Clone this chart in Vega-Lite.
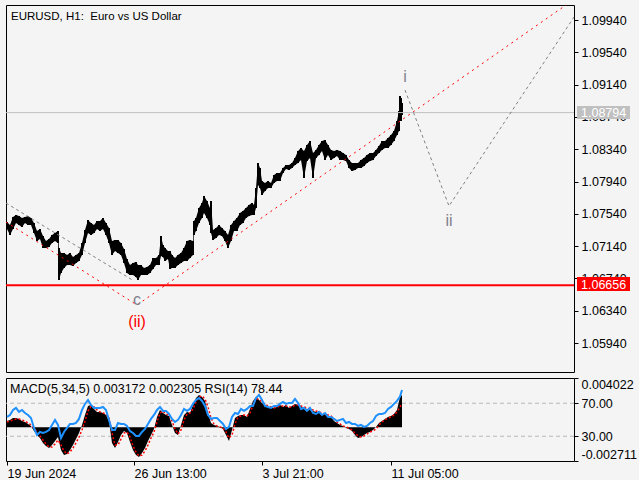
{
  "$schema": "https://vega.github.io/schema/vega-lite/v6.json",
  "background": "#f4f4f4",
  "padding": 2,
  "spacing": 4,
  "config": {
    "padding": 2,
    "view": {"stroke": "#000000", "strokeWidth": 1},
    "axis": {"labelFont": "Liberation Sans", "labelFontSize": 12.5, "labelColor": "#000000", "tickColor": "#000000", "tickSize": 4, "domain": false, "grid": false, "labelPadding": 3, "title": null, "labelOverlap": false},
    "text": {"font": "Liberation Sans"}
  },
  "datasets": {
    "price": [
      {"t":3,"hi":1.07439,"lo":1.07353},{"t":6,"hi":1.07402,"lo":1.07278},{"t":9,"hi":1.07501,"lo":1.07353},{"t":12,"hi":1.07526,"lo":1.07427},{"t":15,"hi":1.07514,"lo":1.07402},{"t":18,"hi":1.07489,"lo":1.07377},{"t":21,"hi":1.07501,"lo":1.07427},{"t":24,"hi":1.07514,"lo":1.07402},{"t":27,"hi":1.07489,"lo":1.07402},{"t":30,"hi":1.07427,"lo":1.07303},{"t":33,"hi":1.07328,"lo":1.07204},{"t":36,"hi":1.07353,"lo":1.07229},{"t":39,"hi":1.07266,"lo":1.07117},{"t":42,"hi":1.07204,"lo":1.07117},{"t":45,"hi":1.07229,"lo":1.0713},{"t":48,"hi":1.07278,"lo":1.07179},{"t":51,"hi":1.07303,"lo":1.07204},{"t":54,"hi":1.07328,"lo":1.07179},{"t":55,"hi":1.07117,"lo":1.06721},{"t":57,"hi":1.07055,"lo":1.06808},{"t":60,"hi":1.07055,"lo":1.06869},{"t":63,"hi":1.0703,"lo":1.06907},{"t":66,"hi":1.07055,"lo":1.06907},{"t":69,"hi":1.07006,"lo":1.06894},{"t":72,"hi":1.0703,"lo":1.06931},{"t":75,"hi":1.07055,"lo":1.06956},{"t":78,"hi":1.07179,"lo":1.0703},{"t":81,"hi":1.0734,"lo":1.07179},{"t":84,"hi":1.07464,"lo":1.07303},{"t":87,"hi":1.07427,"lo":1.07278},{"t":90,"hi":1.07402,"lo":1.07303},{"t":93,"hi":1.07452,"lo":1.07353},{"t":96,"hi":1.07452,"lo":1.07328},{"t":99,"hi":1.07489,"lo":1.07353},{"t":102,"hi":1.07427,"lo":1.07278},{"t":105,"hi":1.07365,"lo":1.07179},{"t":108,"hi":1.07204,"lo":1.0703},{"t":111,"hi":1.07216,"lo":1.0708},{"t":114,"hi":1.07216,"lo":1.07055},{"t":117,"hi":1.07179,"lo":1.0703},{"t":120,"hi":1.07105,"lo":1.06931},{"t":123,"hi":1.06981,"lo":1.06808},{"t":126,"hi":1.06907,"lo":1.06783},{"t":129,"hi":1.06931,"lo":1.06783},{"t":132,"hi":1.06944,"lo":1.06758},{"t":134,"hi":1.06907,"lo":1.06721},{"t":137,"hi":1.06907,"lo":1.06783},{"t":140,"hi":1.06869,"lo":1.06783},{"t":143,"hi":1.06882,"lo":1.06783},{"t":146,"hi":1.06907,"lo":1.06808},{"t":149,"hi":1.06993,"lo":1.06857},{"t":152,"hi":1.06993,"lo":1.06907},{"t":155,"hi":1.0703,"lo":1.06907},{"t":157,"hi":1.07266,"lo":1.07018},{"t":159,"hi":1.07154,"lo":1.07006},{"t":161,"hi":1.07117,"lo":1.06956},{"t":164,"hi":1.0708,"lo":1.06981},{"t":166,"hi":1.0708,"lo":1.06857},{"t":168,"hi":1.0703,"lo":1.06869},{"t":171,"hi":1.06993,"lo":1.06869},{"t":174,"hi":1.0703,"lo":1.06907},{"t":177,"hi":1.07055,"lo":1.06931},{"t":180,"hi":1.07117,"lo":1.06956},{"t":183,"hi":1.07204,"lo":1.06956},{"t":186,"hi":1.07216,"lo":1.06993},{"t":189,"hi":1.07204,"lo":1.0703},{"t":190,"hi":1.07452,"lo":1.07278},{"t":192,"hi":1.07489,"lo":1.07328},{"t":195,"hi":1.07613,"lo":1.07427},{"t":198,"hi":1.07674,"lo":1.07489},{"t":200,"hi":1.07761,"lo":1.07551},{"t":203,"hi":1.077,"lo":1.07489},{"t":206,"hi":1.07613,"lo":1.07402},{"t":207,"hi":1.077,"lo":1.07303},{"t":209,"hi":1.0734,"lo":1.07216},{"t":212,"hi":1.07365,"lo":1.07241},{"t":215,"hi":1.07402,"lo":1.07278},{"t":218,"hi":1.07365,"lo":1.07266},{"t":221,"hi":1.07328,"lo":1.07204},{"t":224,"hi":1.07278,"lo":1.07117},{"t":227,"hi":1.07402,"lo":1.07204},{"t":230,"hi":1.07452,"lo":1.07328},{"t":233,"hi":1.07489,"lo":1.07328},{"t":236,"hi":1.07551,"lo":1.07402},{"t":239,"hi":1.07576,"lo":1.07427},{"t":242,"hi":1.07613,"lo":1.07489},{"t":245,"hi":1.0765,"lo":1.07514},{"t":248,"hi":1.07674,"lo":1.07526},{"t":250,"hi":1.0765,"lo":1.07526},{"t":252,"hi":1.0786,"lo":1.07613},{"t":254,"hi":1.0817,"lo":1.07897},{"t":256,"hi":1.08108,"lo":1.0786},{"t":258,"hi":1.07947,"lo":1.07774},{"t":261,"hi":1.07922,"lo":1.07823},{"t":264,"hi":1.07947,"lo":1.0786},{"t":267,"hi":1.07922,"lo":1.0786},{"t":270,"hi":1.08021,"lo":1.07922},{"t":273,"hi":1.08046,"lo":1.07947},{"t":276,"hi":1.08046,"lo":1.07947},{"t":279,"hi":1.08108,"lo":1.08046},{"t":282,"hi":1.08145,"lo":1.08095},{"t":285,"hi":1.08145,"lo":1.08083},{"t":288,"hi":1.0817,"lo":1.08108},{"t":291,"hi":1.08231,"lo":1.08145},{"t":294,"hi":1.08318,"lo":1.0817},{"t":297,"hi":1.08355,"lo":1.08206},{"t":300,"hi":1.08318,"lo":1.07984},{"t":303,"hi":1.08392,"lo":1.08194},{"t":306,"hi":1.08442,"lo":1.08231},{"t":309,"hi":1.08293,"lo":1.07984},{"t":312,"hi":1.0833,"lo":1.08231},{"t":315,"hi":1.08392,"lo":1.08268},{"t":318,"hi":1.08442,"lo":1.08318},{"t":321,"hi":1.08454,"lo":1.08206},{"t":324,"hi":1.08392,"lo":1.08268},{"t":327,"hi":1.0833,"lo":1.08206},{"t":330,"hi":1.08318,"lo":1.08231},{"t":333,"hi":1.0833,"lo":1.08256},{"t":336,"hi":1.08318,"lo":1.08206},{"t":339,"hi":1.08293,"lo":1.08206},{"t":342,"hi":1.08268,"lo":1.08194},{"t":345,"hi":1.08206,"lo":1.08108},{"t":348,"hi":1.0817,"lo":1.0807},{"t":351,"hi":1.0817,"lo":1.08083},{"t":354,"hi":1.0817,"lo":1.08108},{"t":357,"hi":1.08206,"lo":1.08108},{"t":360,"hi":1.08231,"lo":1.08132},{"t":363,"hi":1.08268,"lo":1.0817},{"t":366,"hi":1.08293,"lo":1.08194},{"t":369,"hi":1.08293,"lo":1.08206},{"t":372,"hi":1.0833,"lo":1.08256},{"t":375,"hi":1.0838,"lo":1.08293},{"t":378,"hi":1.08442,"lo":1.0833},{"t":381,"hi":1.08442,"lo":1.08355},{"t":384,"hi":1.08479,"lo":1.08355},{"t":387,"hi":1.08516,"lo":1.08392},{"t":390,"hi":1.08566,"lo":1.08442},{"t":393,"hi":1.0869,"lo":1.08516},{"t":395,"hi":1.08813,"lo":1.08566},{"t":396,"hi":1.08999,"lo":1.0869},{"t":397,"hi":1.08974,"lo":1.0869},{"t":398,"hi":1.08912,"lo":1.08764}
    ],
    "ind": [
      {"t":3,"m":0.000618,"s":0.00052,"r":53.4},{"t":6,"m":0.000716,"s":0.000618,"r":55.8},{"t":9,"m":0.000912,"s":0.000716,"r":61.9},{"t":12,"m":0.000912,"s":0.000814,"r":64.3},{"t":15,"m":0.000814,"s":0.000814,"r":59.5},{"t":18,"m":0.000618,"s":0.000716,"r":61.9},{"t":21,"m":0.00052,"s":0.000618,"r":58.2},{"t":24,"m":0.000324,"s":0.000422,"r":55.8},{"t":27,"m":0.000127,"s":0.000225,"r":52.2},{"t":30,"m":-0.000363,"s":-0.000069,"r":40.1},{"t":33,"m":-0.000755,"s":-0.000461,"r":31.6},{"t":36,"m":-0.001049,"s":-0.000853,"r":35.2},{"t":39,"m":-0.001539,"s":-0.001245,"r":34.0},{"t":42,"m":-0.001833,"s":-0.001637,"r":35.2},{"t":45,"m":-0.002029,"s":-0.001931,"r":37.6},{"t":48,"m":-0.001735,"s":-0.001931,"r":43.7},{"t":51,"m":-0.001343,"s":-0.001637,"r":49.8},{"t":54,"m":-0.000951,"s":-0.001245,"r":43.7},{"t":57,"m":-0.002225,"s":-0.001735,"r":27.9},{"t":60,"m":-0.002716,"s":-0.002324,"r":35.2},{"t":63,"m":-0.002618,"s":-0.002618,"r":40.1},{"t":66,"m":-0.002225,"s":-0.002422,"r":44.9},{"t":69,"m":-0.001735,"s":-0.002029,"r":44.9},{"t":72,"m":-0.001147,"s":-0.001539,"r":46.1},{"t":75,"m":-0.000559,"s":-0.000951,"r":51.0},{"t":78,"m":0.000225,"s":-0.000265,"r":61.9},{"t":81,"m":0.001206,"s":0.000618,"r":69.2},{"t":84,"m":0.002088,"s":0.001598,"r":74.0},{"t":87,"m":0.002186,"s":0.002088,"r":67.9},{"t":90,"m":0.001794,"s":0.00199,"r":64.3},{"t":93,"m":0.0015,"s":0.001696,"r":64.3},{"t":96,"m":0.0015,"s":0.0015,"r":64.3},{"t":99,"m":0.001402,"s":0.001402,"r":65.5},{"t":102,"m":0.001206,"s":0.001304,"r":61.9},{"t":105,"m":0.000618,"s":0.000912,"r":49.8},{"t":108,"m":-0.001539,"s":-0.000559,"r":37.6},{"t":111,"m":-0.002029,"s":-0.001735,"r":37.6},{"t":114,"m":-0.001441,"s":-0.001735,"r":46.1},{"t":117,"m":-0.000755,"s":-0.001147,"r":44.9},{"t":120,"m":-0.000363,"s":-0.000559,"r":44.9},{"t":123,"m":-0.000559,"s":-0.000461,"r":42.5},{"t":126,"m":-0.001441,"s":-0.000951,"r":36.4},{"t":129,"m":-0.002225,"s":-0.001833,"r":34.0},{"t":132,"m":-0.002716,"s":-0.002422,"r":30.4},{"t":135,"m":-0.002912,"s":-0.002814,"r":30.4},{"t":138,"m":-0.00252,"s":-0.002716,"r":35.2},{"t":141,"m":-0.002029,"s":-0.002324,"r":38.8},{"t":144,"m":-0.001343,"s":-0.001735,"r":44.9},{"t":147,"m":-0.000755,"s":-0.001049,"r":51.0},{"t":150,"m":-0.000167,"s":-0.000461,"r":55.8},{"t":153,"m":0.00101,"s":0.00052,"r":61.9},{"t":156,"m":0.001696,"s":0.001402,"r":65.5},{"t":159,"m":0.001402,"s":0.001598,"r":60.7},{"t":162,"m":0.001206,"s":0.001304,"r":60.7},{"t":165,"m":0.001108,"s":0.001206,"r":57.0},{"t":168,"m":0.000225,"s":0.000618,"r":51.0},{"t":171,"m":-0.000559,"s":-0.000167,"r":47.3},{"t":174,"m":-0.000755,"s":-0.000657,"r":49.8},{"t":177,"m":0.000225,"s":-0.000265,"r":55.8},{"t":180,"m":0.001206,"s":0.000716,"r":63.1},{"t":183,"m":0.0015,"s":0.001304,"r":60.7},{"t":186,"m":0.001402,"s":0.001402,"r":63.1},{"t":189,"m":0.002186,"s":0.001794,"r":69.2},{"t":192,"m":0.002873,"s":0.00248,"r":74.0},{"t":195,"m":0.003167,"s":0.002971,"r":76.4},{"t":198,"m":0.002971,"s":0.003069,"r":72.8},{"t":201,"m":0.002578,"s":0.002775,"r":66.7},{"t":204,"m":0.001402,"s":0.00199,"r":55.8},{"t":207,"m":0.000422,"s":0.000912,"r":51.0},{"t":210,"m":0.000225,"s":0.000324,"r":52.2},{"t":213,"m":0.000127,"s":0.000127,"r":52.2},{"t":216,"m":0.000029,"s":0.000029,"r":48.5},{"t":219,"m":-0.000167,"s":-0.000069,"r":44.9},{"t":222,"m":-0.000755,"s":-0.000461,"r":38.8},{"t":225,"m":-0.001343,"s":-0.001049,"r":41.3},{"t":228,"m":-0.000265,"s":-0.000755,"r":53.4},{"t":231,"m":0.000912,"s":0.000324,"r":58.2},{"t":234,"m":0.001108,"s":0.00101,"r":57.0},{"t":237,"m":0.001206,"s":0.001108,"r":63.1},{"t":240,"m":0.001206,"s":0.001206,"r":60.7},{"t":243,"m":0.00101,"s":0.001108,"r":63.1},{"t":246,"m":0.001794,"s":0.001402,"r":66.7},{"t":249,"m":0.002578,"s":0.002186,"r":66.7},{"t":252,"m":0.002971,"s":0.002775,"r":76.4},{"t":255,"m":0.002676,"s":0.002775,"r":80.1},{"t":258,"m":0.002382,"s":0.00248,"r":74.0},{"t":261,"m":0.002186,"s":0.002284,"r":66.7},{"t":264,"m":0.00199,"s":0.002088,"r":65.5},{"t":267,"m":0.00199,"s":0.00199,"r":64.3},{"t":270,"m":0.001892,"s":0.001892,"r":66.7},{"t":273,"m":0.00199,"s":0.00199,"r":66.7},{"t":276,"m":0.002186,"s":0.002088,"r":69.2},{"t":279,"m":0.00199,"s":0.002088,"r":71.6},{"t":282,"m":0.002186,"s":0.002088,"r":69.2},{"t":285,"m":0.001892,"s":0.00199,"r":70.4},{"t":288,"m":0.002088,"s":0.00199,"r":70.4},{"t":291,"m":0.002284,"s":0.002186,"r":75.2},{"t":294,"m":0.002186,"s":0.002186,"r":70.4},{"t":297,"m":0.00199,"s":0.002088,"r":63.1},{"t":300,"m":0.001892,"s":0.00199,"r":64.3},{"t":303,"m":0.001794,"s":0.001892,"r":60.7},{"t":306,"m":0.001696,"s":0.001794,"r":64.3},{"t":309,"m":0.001598,"s":0.001696,"r":58.2},{"t":312,"m":0.0015,"s":0.001598,"r":57.0},{"t":315,"m":0.0015,"s":0.0015,"r":59.5},{"t":318,"m":0.001304,"s":0.001402,"r":55.8},{"t":321,"m":0.001304,"s":0.001304,"r":58.2},{"t":324,"m":0.001108,"s":0.001206,"r":53.4},{"t":327,"m":0.00101,"s":0.001108,"r":53.4},{"t":330,"m":0.000618,"s":0.000814,"r":51.0},{"t":333,"m":0.000422,"s":0.00052,"r":48.5},{"t":336,"m":0.000225,"s":0.000324,"r":49.8},{"t":339,"m":0.000127,"s":0.000127,"r":51.0},{"t":342,"m":-0.000069,"s":0.000029,"r":46.1},{"t":345,"m":-0.000167,"s":-0.000069,"r":47.3},{"t":348,"m":-0.000363,"s":-0.000265,"r":44.9},{"t":351,"m":-0.000755,"s":-0.000559,"r":44.9},{"t":354,"m":-0.001049,"s":-0.000853,"r":42.5},{"t":357,"m":-0.000951,"s":-0.000951,"r":43.7},{"t":360,"m":-0.000755,"s":-0.000853,"r":41.3},{"t":363,"m":-0.000559,"s":-0.000657,"r":42.5},{"t":366,"m":-0.000461,"s":-0.000461,"r":46.1},{"t":369,"m":-0.000265,"s":-0.000363,"r":48.5},{"t":372,"m":0.000029,"s":-0.000167,"r":54.6},{"t":375,"m":0.000422,"s":0.000225,"r":57.0},{"t":378,"m":0.000618,"s":0.00052,"r":57.0},{"t":381,"m":0.000814,"s":0.000716,"r":58.2},{"t":384,"m":0.00101,"s":0.000912,"r":63.1},{"t":387,"m":0.001108,"s":0.00101,"r":65.5},{"t":390,"m":0.001304,"s":0.001206,"r":69.2},{"t":393,"m":0.001696,"s":0.0015,"r":72.8},{"t":396,"m":0.002971,"s":0.002,"r":78.0},{"t":398,"m":0.003172,"s":0.002305,"r":86.0}
    ],
    "waves": [
      {"t":2,"p":1.07439,"seg":"red"},{"t":133,"p":1.06411,"seg":"red"},{"t":562,"p":1.10126,"seg":"red"},
      {"t":2,"p":1.07674,"seg":"grey1"},{"t":130,"p":1.06709,"seg":"grey1"},
      {"t":401,"p":1.09073,"seg":"grey2"},{"t":445,"p":1.07637,"seg":"grey2"},{"t":570,"p":1.09977,"seg":"grey2"}
    ],
    "labels": [
      {"t":401,"p":1.09234,"txt":"i","kind":"minor"},
      {"t":445,"p":1.07452,"txt":"ii","kind":"minor"},
      {"t":133,"p":1.06473,"txt":"c","kind":"minor"},
      {"t":133,"p":1.06201,"txt":"(ii)","kind":"major"}
    ]
  },
  "resolve": {"scale": {"x": "independent", "y": "independent"}},
  "vconcat": [
    {
      "width": 568,
      "height": 367,
      "resolve": {"axis": {"x": "independent", "y": "independent"}},
      "layer": [
        {
          "data": {"name": "price"},
          "mark": {"type": "area", "color": "#000000"},
          "encoding": {
            "x": {"field": "t", "type": "quantitative", "scale": {"domain": [2, 570], "nice": false, "zero": false}, "axis": null},
            "y": {"field": "hi", "type": "quantitative", "scale": {"domain": [1.05582, 1.10126], "nice": false, "zero": false},
                  "axis": {"orient": "right", "values": [1.0594, 1.0634, 1.0674, 1.0714, 1.0754, 1.0794, 1.0834, 1.0874, 1.0914, 1.0954, 1.0994], "format": ".5f", "labelAlign": "left", "labelBaseline": "middle", "labelOverlap": false}},
            "y2": {"field": "lo"}
          }
        },
        {
          "data": {"name": "price"},
          "mark": {"type": "rule", "color": "#000000", "strokeWidth": 2},
          "encoding": {
            "x": {"field": "t", "type": "quantitative", "axis": null},
            "y": {"field": "hi", "type": "quantitative", "axis": null},
            "y2": {"field": "lo"}
          }
        },
        {
          "data": {"values": [{"v": 1.08794}]},
          "mark": {"type": "rule", "color": "#c0c0c0", "strokeWidth": 1},
          "encoding": {"y": {"field": "v", "type": "quantitative", "axis": null}}
        },
        {
          "data": {"values": [{"v": 1.06656}]},
          "mark": {"type": "rule", "color": "#ff0000", "strokeWidth": 2},
          "encoding": {"y": {"field": "v", "type": "quantitative", "axis": null}}
        },
        {
          "data": {"name": "waves"},
          "transform": [{"filter": "datum.seg === 'red'"}],
          "mark": {"type": "line", "color": "#ff0000", "strokeWidth": 1, "strokeDash": [2, 4]},
          "encoding": {
            "x": {"field": "t", "type": "quantitative", "axis": null},
            "y": {"field": "p", "type": "quantitative", "axis": null}
          }
        },
        {
          "data": {"name": "waves"},
          "transform": [{"filter": "datum.seg !== 'red'"}],
          "mark": {"type": "line", "color": "#808080", "strokeWidth": 1, "strokeDash": [3, 3]},
          "encoding": {
            "x": {"field": "t", "type": "quantitative", "axis": null},
            "y": {"field": "p", "type": "quantitative", "axis": null},
            "detail": {"field": "seg"}
          }
        },
        {
          "data": {"name": "labels"},
          "mark": {"type": "text", "fontSize": 16, "baseline": "middle", "align": "center", "font": "Liberation Sans"},
          "encoding": {
            "x": {"field": "t", "type": "quantitative", "axis": null},
            "y": {"field": "p", "type": "quantitative", "axis": null},
            "text": {"field": "txt"},
            "color": {"field": "kind", "type": "nominal", "scale": {"domain": ["minor", "major"], "range": ["#80808c", "#ff0000"]}, "legend": null}
          }
        },
        {
          "data": {"values": [{"t": 7, "p": 1.09946, "txt": "EURUSD, H1:\u00a0 Euro vs US Dollar"}]},
          "mark": {"type": "text", "fontSize": 11.5, "baseline": "alphabetic", "align": "left", "color": "#000000", "font": "Liberation Sans"},
          "encoding": {
            "x": {"field": "t", "type": "quantitative", "axis": null},
            "y": {"field": "p", "type": "quantitative", "axis": null},
            "text": {"field": "txt"}
          }
        },
        {
          "data": {"values": [{"a": 573, "b": 626, "top": 1.08875, "bot": 1.08714}]},
          "mark": {"type": "rect", "color": "#c0c0c0", "clip": false},
          "encoding": {
            "x": {"field": "a", "type": "quantitative", "axis": null}, "x2": {"field": "b"},
            "y": {"field": "top", "type": "quantitative", "axis": null}, "y2": {"field": "bot"}
          }
        },
        {
          "data": {"values": [{"a": 573, "b": 626, "top": 1.06758, "bot": 1.06585}]},
          "mark": {"type": "rect", "color": "#ff0000", "clip": false},
          "encoding": {
            "x": {"field": "a", "type": "quantitative", "axis": null}, "x2": {"field": "b"},
            "y": {"field": "top", "type": "quantitative", "axis": null}, "y2": {"field": "bot"}
          }
        },
        {
          "data": {"values": [{"a": 577, "v": 1.08794, "txt": "1.08794"}, {"a": 577, "v": 1.06656, "txt": "1.06656"}]},
          "mark": {"type": "text", "color": "#ffffff", "fontSize": 12.5, "align": "left", "baseline": "middle", "clip": false, "font": "Liberation Sans"},
          "encoding": {
            "x": {"field": "a", "type": "quantitative", "axis": null},
            "y": {"field": "v", "type": "quantitative", "axis": null},
            "text": {"field": "txt"}
          }
        }
      ]
    },
    {
      "width": 568,
      "height": 83,
      "resolve": {"scale": {"y": "independent"}, "axis": {"x": "independent", "y": "independent"}},
      "layer": [
        {
          "data": {"values": [{"v": 70}, {"v": 30}]},
          "mark": {"type": "rule", "color": "#b8b8b8", "strokeDash": [4, 3], "strokeWidth": 1},
          "encoding": {
            "y": {"field": "v", "type": "quantitative", "scale": {"domain": [0, 100.6], "nice": false, "zero": false},
                  "axis": {"orient": "right", "values": [100.6, 70, 30, 0], "labelExpr": "datum.value == 70 ? '70.00' : datum.value == 30 ? '30.00' : datum.value > 90 ? '0.004022' : '-0.002711'", "labelAlign": "left", "labelBaseline": {"condition": [{"test": "datum.value > 90", "value": "top"}, {"test": "datum.value < 1", "value": "bottom"}], "value": "middle"}, "labelOverlap": false}}
          }
        },
        {
          "data": {"name": "ind"},
          "mark": {"type": "area", "color": "#000000"},
          "encoding": {
            "x": {"field": "t", "type": "quantitative", "scale": {"domain": [2, 570], "nice": false, "zero": false},
                  "axis": {"orient": "bottom", "values": [3, 130, 258, 387], "labelExpr": "datum.value == 3 ? '19 Jun 2024' : datum.value == 130 ? '26 Jun 13:00' : datum.value == 258 ? '3 Jul 21:00' : '11 Jul 05:00'", "labelAlign": "left", "labelBaseline": "top", "labelPadding": 2, "labelOverlap": false, "labelFlush": false}},
            "y": {"field": "m", "type": "quantitative", "scale": {"domain": [-0.003304, 0.004833], "nice": false, "zero": false}, "axis": null},
            "y2": {"datum": 0}
          }
        },
        {
          "data": {"name": "ind"},
          "mark": {"type": "line", "color": "#ff0000", "strokeWidth": 1.5, "strokeDash": [2, 2]},
          "encoding": {
            "x": {"field": "t", "type": "quantitative", "axis": null},
            "y": {"field": "s", "type": "quantitative", "scale": {"domain": [-0.003304, 0.004833], "nice": false, "zero": false}, "axis": null}
          }
        },
        {
          "data": {"name": "ind"},
          "mark": {"type": "line", "color": "#1e90ff", "strokeWidth": 2},
          "encoding": {
            "x": {"field": "t", "type": "quantitative", "axis": null},
            "y": {"field": "r", "type": "quantitative", "scale": {"domain": [0, 100.6], "nice": false, "zero": false}, "axis": null}
          }
        },
        {
          "data": {"values": [{"t": 6, "r": 82.5, "txt": "MACD(5,34,5) 0.003172 0.002305 RSI(14) 78.44"}]},
          "mark": {"type": "text", "fontSize": 12.5, "baseline": "alphabetic", "align": "left", "color": "#000000", "font": "Liberation Sans"},
          "encoding": {
            "x": {"field": "t", "type": "quantitative", "axis": null},
            "y": {"field": "r", "type": "quantitative", "scale": {"domain": [0, 100.6], "nice": false, "zero": false}, "axis": null},
            "text": {"field": "txt"}
          }
        }
      ]
    }
  ]
}
